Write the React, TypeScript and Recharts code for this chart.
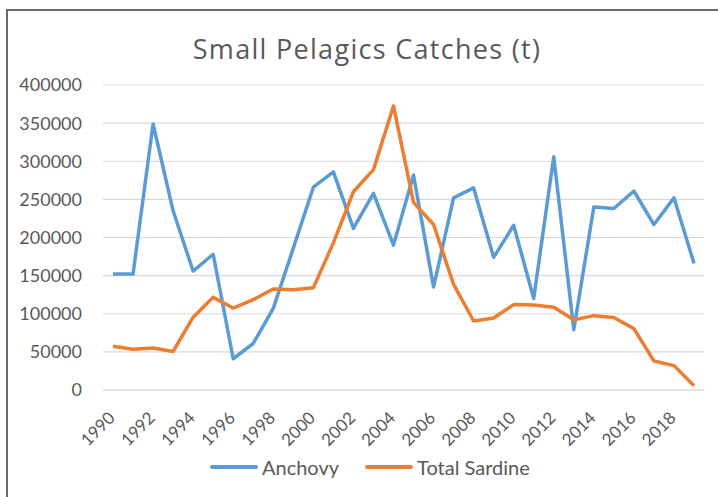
import React from "react";
import {
  CartesianGrid,
  Legend,
  Line,
  LineChart,
  XAxis,
  YAxis,
} from "recharts";

const years = [
  "1990", "1991", "1992", "1993", "1994", "1995", "1996", "1997", "1998", "1999",
  "2000", "2001", "2002", "2003", "2004", "2005", "2006", "2007", "2008", "2009",
  "2010", "2011", "2012", "2013", "2014", "2015", "2016", "2017", "2018", "2019",
];

const anchovy = [
  152000, 152000, 349000, 235000, 156000, 178000, 41000, 61000, 107000, 186000,
  266000, 286000, 212000, 258000, 190000, 282000, 135000, 252000, 265000, 174000,
  216000, 120000, 306000, 79000, 240000, 238000, 261000, 217000, 252000, 166000,
];

const sardine = [
  57500, 53500, 55000, 50500, 95500, 121500, 107500, 118500, 132500, 131500,
  134000, 193000, 260000, 289000, 372500, 246000, 217000, 138500, 90500, 94500,
  112000, 111500, 108500, 92000, 97500, 95000, 80500, 38000, 32000, 5500,
];

const yTicks = [0, 50000, 100000, 150000, 200000, 250000, 300000, 350000, 400000];

const data = years.map((year, i) => ({
  year,
  Anchovy: anchovy[i],
  "Total Sardine": sardine[i],
}));

const FONT = "Lato, 'Open Sans', sans-serif";
const TEXT = "#595959";

const XTick = (props: any) => {
  const { x, y, payload } = props;
  return (
    <g transform={`translate(${x + 3},${y + 29})`}>
      <text x={0} y={0} textAnchor="end" transform="rotate(-45)" fill={TEXT} fontSize={17} fontFamily={FONT}>
        {payload.value}
      </text>
    </g>
  );
};

const LegendContent = (props: any) => {
  const { payload } = props;
  return (
    <div style={{ display: "flex", alignItems: "center", fontFamily: FONT, fontSize: 20, lineHeight: "24px", color: TEXT }}>
      {payload.map((entry: any, i: number) => (
        <div key={entry.value} style={{ display: "flex", alignItems: "center", marginLeft: i ? 26 : 0 }}>
          <span style={{ display: "inline-block", width: 48, height: 4, borderRadius: 2, background: entry.color, marginRight: 4 }} />
          <span>{entry.value}</span>
        </div>
      ))}
    </div>
  );
};

const App = () => {
  return (
    <div style={{ position: "absolute", left: 0, top: 0, width: 718, height: 497, background: "#fff" }}>
      <div
        style={{
          position: "absolute",
          left: 6,
          top: 9,
          width: 712,
          height: 488,
          borderTop: "2px solid #6b6b6b",
          borderLeft: "2px solid #6b6b6b",
          boxSizing: "border-box",
        }}
      />
      <div
        style={{
          position: "absolute",
          left: 0,
          top: 30,
          width: 734,
          textAlign: "center",
          fontFamily: "'Open Sans', sans-serif",
          fontSize: 27,
          letterSpacing: 1.3,
          color: TEXT,
          whiteSpace: "nowrap",
        }}
      >
        Small Pelagics Catches (t)
      </div>
      <div style={{ position: "absolute", left: 0, top: 0 }}>
        <LineChart width={718} height={497} data={data} margin={{ top: 85, right: 14, left: 0, bottom: 0 }}>
          <CartesianGrid horizontal vertical={false} stroke="#d9d9d9" strokeWidth={1.2} />
          <XAxis
            dataKey="year"
            interval={1}
            height={107}
            padding={{ left: 10, right: 10 }}
            axisLine={{ stroke: "#d9d9d9", strokeWidth: 1.2 }}
            tickLine={false}
            tickSize={0}
            tickMargin={0}
            tick={<XTick />}
          />
          <YAxis
            domain={[0, 400000]}
            ticks={yTicks}
            width={103}
            axisLine={false}
            tickLine={false}
            tickSize={0}
            tickMargin={21}
            tick={{ fill: TEXT, fontSize: 18, fontFamily: FONT }}
          />
          <Legend
            verticalAlign="middle"
            align="center"
            layout="horizontal"
            content={LegendContent}
            wrapperStyle={{ top: 455, left: 210, width: "auto" }}
          />
          <Line
            type="linear"
            dataKey="Anchovy"
            stroke="#5b9bd5"
            strokeWidth={3.5}
            dot={false}
            strokeLinejoin="round"
            isAnimationActive={false}
          />
          <Line
            type="linear"
            dataKey="Total Sardine"
            stroke="#ed7d31"
            strokeWidth={3.5}
            dot={false}
            strokeLinejoin="round"
            isAnimationActive={false}
          />
        </LineChart>
      </div>
    </div>
  );
};

export default App;
